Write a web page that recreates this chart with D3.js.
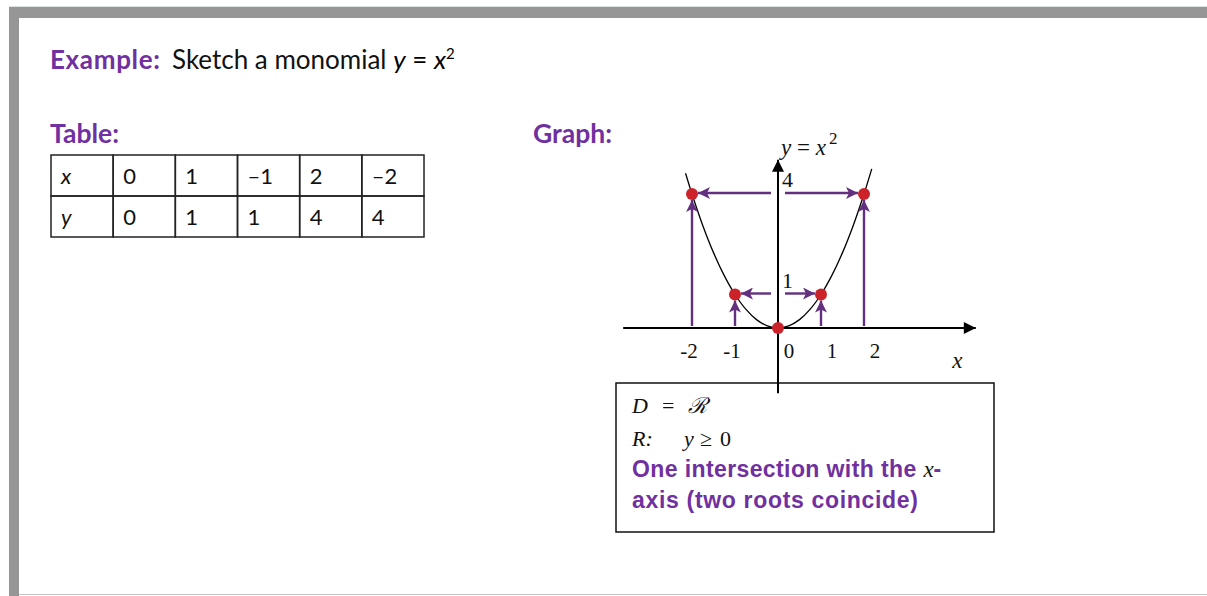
<!DOCTYPE html>
<html>
<head>
<meta charset="utf-8">
<script src="https://cdn.jsdelivr.net/npm/d3@7"></script>
<style>
  body { margin: 0; background: #fff; }
  svg { display: block; }
</style>
</head>
<body>
<div id="chart"></div>
<script>
// table values
var tableX = [0, 1, -1, 2, -2];
var tableY = [0, 1, 1, 4, 4];
// tick labels on the sketch
var xTicks = [-2, -1, 0, 1, 2];
var yTicks = [1, 4];
// sample points of the sketched curve y = x^2
var curveX = [-2.15, -2, -1.75, -1.5, -1.25, -1, -0.75, -0.5, -0.25, 0, 0.25, 0.5, 0.75, 1, 1.25, 1.5, 1.75, 2, 2.18];
var curveY = [4.62, 4, 3.0625, 2.25, 1.5625, 1, 0.5625, 0.25, 0.0625, 0, 0.0625, 0.25, 0.5625, 1, 1.5625, 2.25, 3.0625, 4, 4.75];

var W = 1207, H = 596;
var purple = "#7030a0";
var arrowPurple = "#633080";
var red = "#cc2229";
var sans = "Lato, 'Noto Sans', sans-serif";
var serif = "'Liberation Serif', 'Times New Roman', serif";
var arial = "'Liberation Sans', Arial, sans-serif";

var svg = d3.select("#chart").append("svg")
  .attr("width", W)
  .attr("height", H);

// frame
svg.append("rect").attr("x", 0).attr("y", 0).attr("width", W).attr("height", H).attr("fill", "#fff");
svg.append("rect").attr("x", 9).attr("y", 7).attr("width", W - 9).attr("height", 11).attr("fill", "#969696");
svg.append("rect").attr("x", 9).attr("y", 7).attr("width", 10).attr("height", H - 7).attr("fill", "#969696");
svg.append("line").attr("x1", 9).attr("x2", W).attr("y1", 6.5).attr("y2", 6.5).attr("stroke", "#dfe3e3");
svg.append("line").attr("x1", 19).attr("x2", W).attr("y1", 594.5).attr("y2", 594.5).attr("stroke", "#c4c4c4");

// title
var title = svg.append("text").attr("x", 50).attr("y", 69)
  .attr("font-family", sans).attr("font-size", 26);
title.append("tspan").attr("font-weight", "bold").attr("fill", purple)
  .attr("textLength", 110).text("Example:");
title.append("tspan").attr("x", 172).attr("fill", "#111").text("Sketch a monomial ");
title.append("tspan").attr("font-style", "italic").text("y");
title.append("tspan").text(" = ");
title.append("tspan").attr("font-style", "italic").text("x");
title.append("tspan").attr("font-size", 15).attr("dy", -10).text("2");

svg.append("text").attr("x", 50).attr("y", 143)
  .attr("font-family", sans).attr("font-size", 26.5).attr("font-weight", "bold")
  .attr("fill", purple).text("Table:");
svg.append("text").attr("x", 533).attr("y", 143)
  .attr("font-family", sans).attr("font-size", 26.5).attr("font-weight", "bold")
  .attr("fill", purple).text("Graph:");

// table
var colX = d3.scaleBand().domain(d3.range(6)).range([51, 424]);
var rowY = d3.scaleBand().domain(["x", "y"]).range([155, 237]);
var fmt = function (v) { return v < 0 ? "\u2013" + Math.abs(v) : String(v); };
var rows = [
  { key: "x", vals: tableX },
  { key: "y", vals: tableY }
];
var tbl = svg.append("g");
rows.forEach(function (r) {
  var cells = [r.key].concat(r.vals.map(fmt));
  tbl.selectAll(null).data(cells).enter().append("rect")
    .attr("x", function (d, i) { return colX(i); })
    .attr("y", rowY(r.key))
    .attr("width", colX.bandwidth())
    .attr("height", rowY.bandwidth())
    .attr("fill", "none").attr("stroke", "#222").attr("stroke-width", 1.5);
  tbl.selectAll(null).data(cells).enter().append("text")
    .attr("x", function (d, i) { return colX(i) + 10; })
    .attr("y", rowY(r.key) + rowY.bandwidth() / 2 + 8)
    .attr("font-family", sans).attr("font-size", 22)
    .attr("font-style", function (d, i) { return i === 0 ? "italic" : "normal"; })
    .attr("fill", "#111")
    .text(function (d) { return d; });
});

// sketch scales
var x = d3.scaleLinear().domain([0, 1]).range([778, 821]);
var y = d3.scaleLinear().domain([0, 1]).range([328, 294.5]);

var defs = svg.append("defs");
defs.append("marker").attr("id", "headP")
  .attr("viewBox", "0 0 10 10").attr("refX", 10).attr("refY", 5)
  .attr("markerUnits", "userSpaceOnUse").attr("markerWidth", 13).attr("markerHeight", 12)
  .attr("orient", "auto")
  .append("path").attr("d", "M0,0 L10,5 L0,10 L2.5,5 Z").attr("fill", arrowPurple);
defs.append("marker").attr("id", "headK")
  .attr("viewBox", "0 0 10 10").attr("refX", 10).attr("refY", 5)
  .attr("markerUnits", "userSpaceOnUse").attr("markerWidth", 13).attr("markerHeight", 12)
  .attr("orient", "auto")
  .append("path").attr("d", "M0,0 L10,5 L0,10 Z").attr("fill", "#000");

// info box (drawn first so the y axis overlaps its border)
svg.append("rect").attr("x", 616).attr("y", 383).attr("width", 378).attr("height", 149)
  .attr("fill", "#fff").attr("stroke", "#111").attr("stroke-width", 1.5);

// axes
svg.append("line")
  .attr("x1", x(-3.6)).attr("x2", x(4.6)).attr("y1", y(0)).attr("y2", y(0))
  .attr("stroke", "#000").attr("stroke-width", 2).attr("marker-end", "url(#headK)");
svg.append("line")
  .attr("x1", x(0)).attr("x2", x(0)).attr("y1", y(-1.95)).attr("y2", y(5.02))
  .attr("stroke", "#000").attr("stroke-width", 2).attr("marker-end", "url(#headK)");

// parabola
var curvePts = curveX.map(function (v, i) { return [v, curveY[i]]; });
svg.append("path").datum(curvePts)
  .attr("d", d3.line().x(function (d) { return x(d[0]); }).y(function (d) { return y(d[1]); }).curve(d3.curveCatmullRom))
  .attr("fill", "none").attr("stroke", "#000").attr("stroke-width", 1.3);

// purple projection arrows
var pts = tableX.map(function (v, i) { return { x: v, y: tableY[i] }; }).filter(function (d) { return d.x !== 0; });
var r = 6;
var arrows = svg.append("g").attr("stroke", arrowPurple).attr("stroke-width", 2.4);
// vertical: from x-axis up to the point
arrows.selectAll(null).data(pts).enter().append("line")
  .attr("x1", function (d) { return x(d.x); })
  .attr("x2", function (d) { return x(d.x); })
  .attr("y1", y(0) - 2)
  .attr("y2", function (d) { return y(d.y) + r; })
  .attr("marker-end", "url(#headP)");
// horizontal: from y-axis out to the point
arrows.selectAll(null).data(pts).enter().append("line")
  .attr("x1", function (d) { return x(0) + Math.sign(d.x) * 7; })
  .attr("x2", function (d) { return x(d.x) - Math.sign(d.x) * r; })
  .attr("y1", function (d) { return y(d.y) - 1; })
  .attr("y2", function (d) { return y(d.y) - 1; })
  .attr("marker-end", "url(#headP)");

// points
svg.append("g").selectAll("circle")
  .data(tableX.map(function (v, i) { return { x: v, y: tableY[i] }; }))
  .enter().append("circle")
  .attr("cx", function (d) { return x(d.x); })
  .attr("cy", function (d) { return y(d.y); })
  .attr("r", r).attr("fill", red);

// tick labels
svg.append("g").selectAll("text").data(xTicks).enter().append("text")
  .attr("x", function (d) { return x(d) + (d < 0 ? -3 : 11); })
  .attr("y", y(0) + 30)
  .attr("text-anchor", "middle")
  .attr("font-family", serif).attr("font-size", 21).attr("fill", "#111")
  .text(function (d) { return d; });
svg.append("g").selectAll("text").data(yTicks).enter().append("text")
  .attr("x", x(0) + 4)
  .attr("y", function (d) { return y(d) - 7; })
  .attr("font-family", serif).attr("font-size", 22).attr("fill", "#111")
  .text(function (d) { return d; });

svg.append("text").attr("x", x(4.05)).attr("y", y(0) + 40)
  .attr("font-family", serif).attr("font-size", 23).attr("font-style", "italic").attr("fill", "#111")
  .text("x");

var lbl = svg.append("text").attr("x", x(0) + 3).attr("y", 155)
  .attr("font-family", serif).attr("font-size", 23).attr("fill", "#111");
lbl.append("tspan").attr("font-style", "italic").text("y");
lbl.append("tspan").text(" = ");
lbl.append("tspan").attr("font-style", "italic").text("x");
lbl.append("tspan").attr("font-size", 17).attr("dy", -11).attr("dx", 3).text("2");

// box text
var t1 = svg.append("text").attr("x", 632).attr("y", 413)
  .attr("font-family", serif).attr("font-size", 22).attr("fill", "#111");
t1.append("tspan").attr("font-style", "italic").text("D");
t1.append("tspan").attr("x", 662).text("=");
t1.append("tspan").attr("x", 688).attr("font-style", "italic").text("\u211B");

var t2 = svg.append("text").attr("x", 632).attr("y", 446)
  .attr("font-family", serif).attr("font-size", 22).attr("fill", "#111");
t2.append("tspan").attr("font-style", "italic").text("R:");
t2.append("tspan").attr("x", 684).attr("font-style", "italic").text("y");
t2.append("tspan").attr("x", 700).text("\u2265");
t2.append("tspan").attr("x", 720).text("0");

var t3 = svg.append("text").attr("x", 632).attr("y", 477)
  .attr("font-family", arial).attr("font-size", 23).attr("font-weight", "bold").attr("fill", purple);
t3.append("tspan").attr("textLength", 291).text("One intersection with the ");
t3.append("tspan").attr("font-family", serif).attr("font-weight", "normal")
  .attr("font-style", "italic").attr("fill", "#111").text("x");
t3.append("tspan").text("-");

svg.append("text").attr("x", 632).attr("y", 508)
  .attr("font-family", arial).attr("font-size", 23).attr("font-weight", "bold").attr("fill", purple)
  .attr("textLength", 286)
  .text("axis (two roots coincide)");
</script>
</body>
</html>
